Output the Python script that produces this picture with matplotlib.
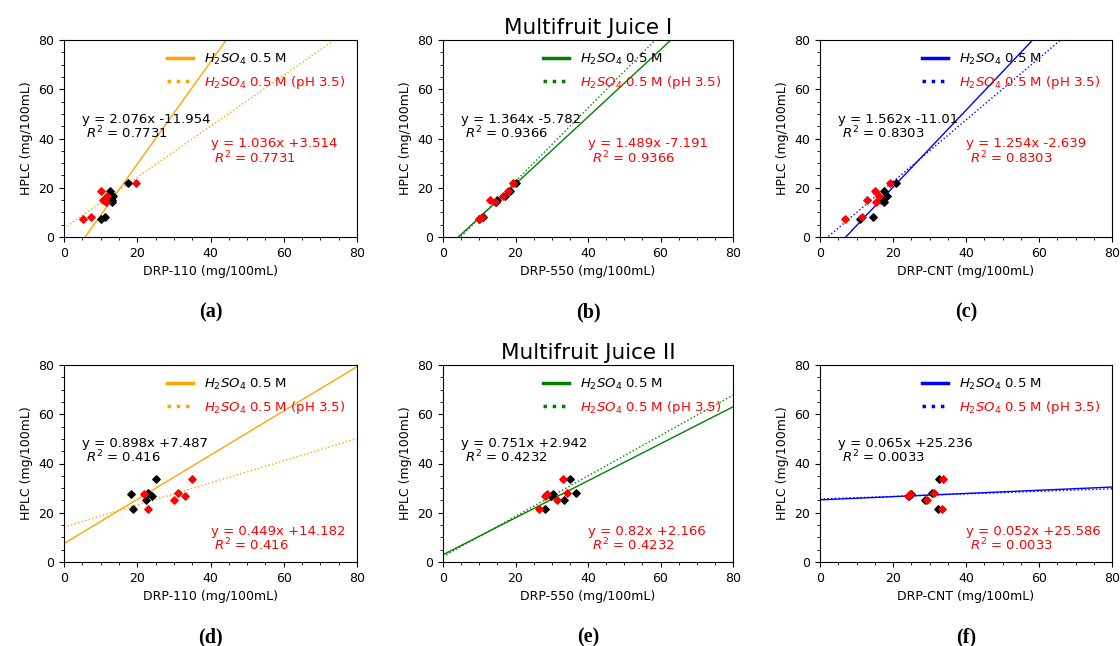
import matplotlib
matplotlib.use("Agg")
import matplotlib.pyplot as plt
from matplotlib.lines import Line2D
from matplotlib.ticker import MultipleLocator
import numpy as np

# HPLC reference values (mg/100mL)
hplc_j1 = [22.1, 18.8, 16.6, 15.0, 14.4, 8.2, 7.2]
hplc_j2 = [33.6, 27.9, 27.6, 26.9, 25.3, 21.7]

# DRP readings, juice I
drp110_j1 = [17.4, 12.6, 13.5, 13.0, 13.2, 11.2, 10.2]
drp110_j1_ph = [19.7, 10.1, 11.7, 10.6, 11.5, 7.4, 5.2]
drp550_j1 = [20.1, 18.5, 17.1, 15.0, 14.6, 11.0, 10.0]
drp550_j1_ph = [19.4, 18.0, 16.5, 13.0, 14.4, 10.8, 10.0]
drpcnt_j1 = [20.8, 17.4, 18.3, 16.8, 17.6, 14.6, 10.9]
drpcnt_j1_ph = [19.2, 15.1, 16.3, 12.8, 15.3, 11.6, 6.8]

# DRP readings, juice II
drp110_j2 = [25.0, 23.0, 18.3, 24.0, 22.4, 18.8]
drp110_j2_ph = [34.9, 31.2, 21.9, 33.1, 29.9, 22.8]
drp550_j2 = [35.0, 36.7, 30.4, 29.9, 33.4, 28.1]
drp550_j2_ph = [33.0, 34.3, 28.6, 28.0, 31.5, 26.6]
drpcnt_j2 = [32.7, 30.6, 25.0, 24.4, 28.9, 32.4]
drpcnt_j2_ph = [33.6, 31.2, 24.6, 24.0, 29.4, 33.3]

# linear fits: slope, intercept, r2 (H2SO4 0.5 M and pH 3.5)
slopes = [2.076, 1.364, 1.562, 0.898, 0.751, 0.065]
intercepts = [-11.954, -5.782, -11.01, 7.487, 2.942, 25.236]
r2s = ["0.7731", "0.9366", "0.8303", "0.416", "0.4232", "0.0033"]
slopes_ph = [1.036, 1.489, 1.254, 0.449, 0.82, 0.052]
intercepts_ph = [3.514, -7.191, -2.639, 14.182, 2.166, 25.586]
r2s_ph = ["0.7731", "0.9366", "0.8303", "0.416", "0.4232", "0.0033"]

xlabels = ["DRP-110 (mg/100mL)", "DRP-550 (mg/100mL)", "DRP-CNT (mg/100mL)"] * 2
line_colors = ["orange", "green", "blue"] * 2
panel_tags = ["(a)", "(b)", "(c)", "(d)", "(e)", "(f)"]

x_black = [drp110_j1, drp550_j1, drpcnt_j1, drp110_j2, drp550_j2, drpcnt_j2]
x_red = [drp110_j1_ph, drp550_j1_ph, drpcnt_j1_ph, drp110_j2_ph, drp550_j2_ph, drpcnt_j2_ph]
y_vals = [hplc_j1] * 3 + [hplc_j2] * 3


def fmt_eq(m, b):
    sign = "+" if b >= 0 else "-"
    return "y = %gx %s%g" % (m, sign, abs(b))


W, H = 1120, 646
fig = plt.figure(figsize=(W / 100, H / 100), dpi=100)
plt.rcParams["font.size"] = 9

lefts = [64, 443, 820]
widths = [293, 290, 292]
tops = [40, 365]
ax_h = 197

# y positions of the equation lines (data units)
black_eq_y = [(47.6, 42.3), (48.3, 42.6)]
red_eq_y = [(37.8, 32.2), (12.3, 6.9)]

axes = []
for i in range(6):
    row, col = divmod(i, 3)
    rect = [lefts[col] / W, 1 - (tops[row] + ax_h) / H, widths[col] / W, ax_h / H]
    ax = fig.add_axes(rect)
    axes.append(ax)
    c = line_colors[i]
    xs = np.array([0, 80])
    ax.plot(xs, slopes[i] * xs + intercepts[i], color=c, lw=1)
    ax.plot(xs, slopes_ph[i] * xs + intercepts_ph[i], color=c, lw=1, ls=":")
    ax.scatter(x_black[i], y_vals[i], marker="D", s=14, color="black", zorder=3)
    ax.scatter(x_red[i], y_vals[i], marker="D", s=14, color="red", zorder=3)
    ax.set_xlim(0, 80)
    ax.set_ylim(0, 80)
    ax.xaxis.set_major_locator(MultipleLocator(20))
    ax.yaxis.set_major_locator(MultipleLocator(20))
    ax.xaxis.set_minor_locator(MultipleLocator(5))
    ax.yaxis.set_minor_locator(MultipleLocator(5))
    ax.set_xlabel(xlabels[i], fontsize=9)
    ax.set_ylabel("HPLC (mg/100mL)", fontsize=9)

    by1, by2 = black_eq_y[row]
    ax.text(5, by1, fmt_eq(slopes[i], intercepts[i]), color="black", va="center", fontsize=9.5)
    ax.text(6, by2, "$R^2$ = " + r2s[i], color="black", va="center", fontsize=9.5)
    ry1, ry2 = red_eq_y[row]
    ax.text(40, ry1, fmt_eq(slopes_ph[i], intercepts_ph[i]), color="red", va="center", fontsize=9.5)
    ax.text(41, ry2, "$R^2$ = " + r2s_ph[i], color="red", va="center", fontsize=9.5)

    handles = [Line2D([], [], color=c, lw=2.5),
               Line2D([], [], color=c, lw=2.5, ls=":")]
    leg = ax.legend(handles, ["$H_2SO_4$ 0.5 M", "$H_2SO_4$ 0.5 M (pH 3.5)"],
                    loc="upper right", frameon=False, fontsize=9.5)
    leg.get_texts()[1].set_color("red")

    ax.text(0.5, -0.385, panel_tags[i], transform=ax.transAxes, ha="center", va="center",
            fontsize=14.5, fontweight="bold", family="Liberation Serif")

axes[1].set_title("Multifruit Juice I", fontsize=15.5, pad=4)
axes[4].set_title("Multifruit Juice II", fontsize=15.5, pad=4)

fig.savefig("out.png", dpi=100)
